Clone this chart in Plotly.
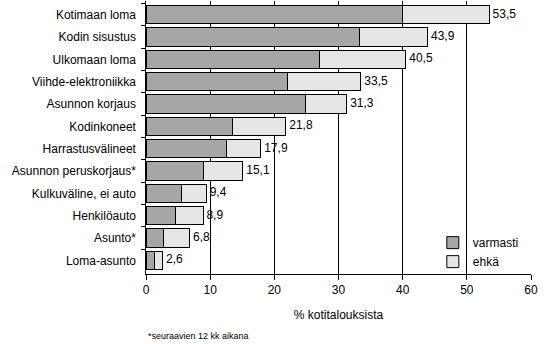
import plotly.graph_objects as go

categories = ["Kotimaan loma", "Kodin sisustus", "Ulkomaan loma", "Viihde-elektroniikka",
              "Asunnon korjaus", "Kodinkoneet", "Harrastusvälineet", "Asunnon peruskorjaus*",
              "Kulkuväline, ei auto", "Henkilöauto", "Asunto*", "Loma-asunto"]
totals = [53.5, 43.9, 40.5, 33.5, 31.3, 21.8, 17.9, 15.1, 9.4, 8.9, 6.8, 2.6]
varmasti = [39.9, 33.2, 27.0, 22.0, 24.8, 13.5, 12.5, 8.9, 5.6, 4.6, 2.8, 1.4]
ehka = [round(t - v, 1) for t, v in zip(totals, varmasti)]
labels = [" " + f"{t:.1f}".replace(".", ",") for t in totals]

font = dict(family="Liberation Sans, Arial, sans-serif", size=12, color="black")

fig = go.Figure()
fig.add_trace(go.Bar(y=categories, x=varmasti, orientation="h", name="varmasti",
                     marker=dict(color="#a6a6a6", line=dict(color="black", width=1))))
fig.add_trace(go.Bar(y=categories, x=ehka, orientation="h", name="ehkä",
                     marker=dict(color="#e6e6e6", line=dict(color="black", width=1))))
fig.add_trace(go.Scatter(y=categories, x=totals, mode="text", text=labels,
                         textposition="middle right", textfont=font, showlegend=False,
                         cliponaxis=False))

fig.update_layout(
    width=553, height=344, barmode="stack", bargap=0.19,
    plot_bgcolor="white", paper_bgcolor="white",
    margin=dict(l=146, r=22, t=1, b=70),
    font=font,
    legend=dict(x=0.745, y=0.168, xanchor="left", yanchor="top", bgcolor="rgba(0,0,0,0)",
                font=dict(size=12), itemwidth=30, tracegroupgap=0, traceorder="normal"),
    xaxis=dict(range=[0, 60], dtick=10, showgrid=True, gridcolor="black", gridwidth=1,
               showline=True, linecolor="black", linewidth=1, ticks="outside",
               ticklen=5, tickcolor="black", zeroline=False,
               title=dict(text="% kotitalouksista", font=dict(size=12), standoff=14)),
    yaxis=dict(autorange="reversed", showline=True, linecolor="black", linewidth=1,
               ticks="outside", ticklen=4, tickcolor="black", tickson="boundaries",
               showgrid=False, ticksuffix="  "),
    annotations=[dict(text="*seuraavien 12 kk aikana", x=0, xref="paper", y=-0.227,
                      yref="paper", xanchor="left", yanchor="middle", showarrow=False,
                      font=dict(size=9))],
)

fig.write_html("out.html")
